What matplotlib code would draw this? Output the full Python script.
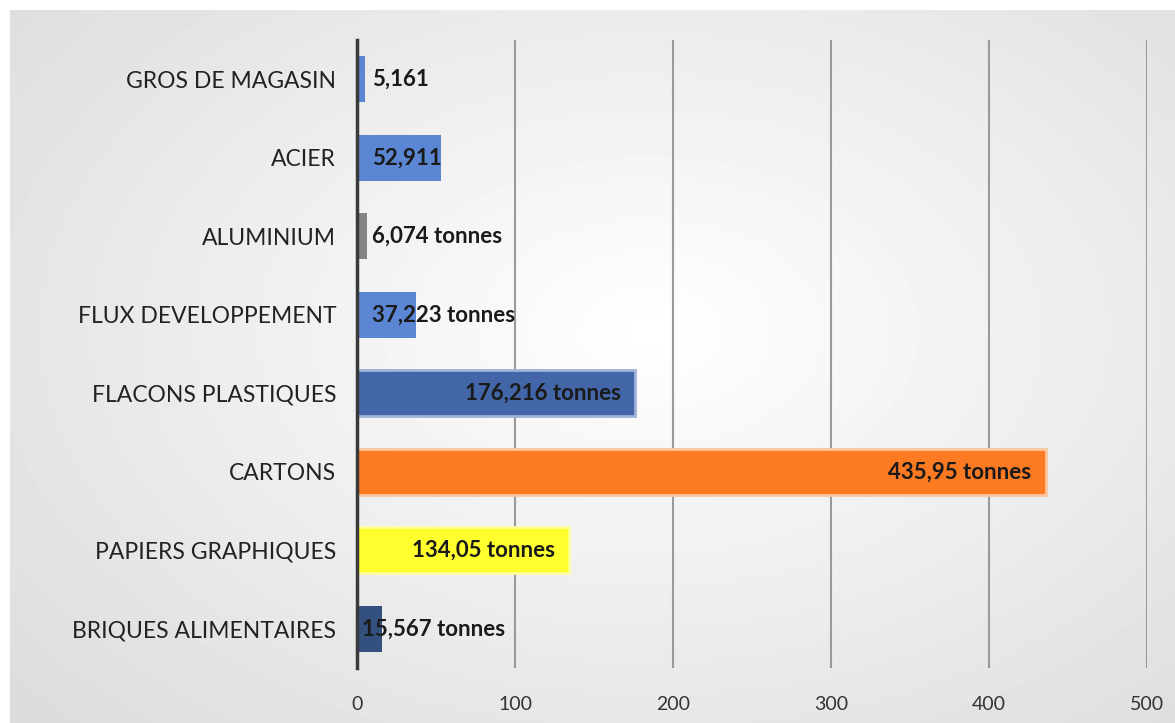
import matplotlib.pyplot as plt
import numpy as np

# données
categories = ["BRIQUES ALIMENTAIRES", "PAPIERS GRAPHIQUES", "CARTONS", "FLACONS PLASTIQUES",
              "FLUX DEVELOPPEMENT", "ALUMINIUM", "ACIER", "GROS DE MAGASIN"]
values = [15.567, 134.05, 435.95, 176.216, 37.223, 6.074, 52.911, 5.161]
labels = ["15,567 tonnes", "134,05 tonnes", "435,95 tonnes", "176,216 tonnes",
          "37,223 tonnes", "6,074 tonnes", "52,911", "5,161"]
colors = ["#34507f", "#ffff2e", "#fb7a22", "#4366a8", "#5b86d3", "#858585", "#5b86d3", "#5b86d3"]
edges = ["none", "#ffff9a", "#fbc6a0", "#9fb3d9", "none", "none", "none", "none"]
inside_end = [False, True, True, True, False, False, False, False]

W, H = 1175, 723
fig = plt.figure(figsize=(W / 100, H / 100), dpi=100)
fig.patch.set_facecolor("white")

# fond dégradé
bg = fig.add_axes([10 / W, 0, 1 - 10 / W, 1 - 10 / H])
yy, xx = np.mgrid[0:1:200j, 0:1:300j]
d = np.sqrt(((xx - 0.55) / 0.75) ** 2 + ((yy - 0.45) / 0.8) ** 2)
bg.imshow(1 - 0.14 * np.clip(d, 0, 1.2), cmap="gray", vmin=0, vmax=1, aspect="auto",
          extent=[0, 1, 0, 1])
bg.axis("off")

ax = fig.add_axes([357 / W, 1 - 668 / H, (1147 - 357) / W, (668 - 40) / H])
ax.patch.set_alpha(0)
y = np.arange(len(categories))
ax.barh(y, values, height=0.58, color=colors, edgecolor=edges, linewidth=2, zorder=3)

for i, (v, lab) in enumerate(zip(values, labels)):
    if inside_end[i]:
        ax.text(v - 9, i, lab, ha="right", va="center", fontsize=16, fontweight="bold",
                family="Lato", color="#1a1a1a", zorder=4)
    else:
        x0 = 3 if i == 0 else 9.5
        ax.text(x0, i, lab, ha="left", va="center", fontsize=16, fontweight="bold",
                family="Lato", color="#1a1a1a", zorder=4)

ax.set_xlim(0, 500)
ax.set_ylim(-0.5, len(categories) - 0.5)
ax.set_xticks([0, 100, 200, 300, 400, 500])
ax.set_yticks(y)
ax.set_yticklabels(categories, family="Lato", fontsize=16.5, color="#222222")
ax.tick_params(axis="y", length=0, pad=15)
ax.tick_params(axis="x", length=0, pad=20, labelsize=14, labelcolor="#333333")
for t in ax.get_xticklabels():
    t.set_family("Lato")
ax.grid(axis="x", color="#9a9a9a", linewidth=1.5, zorder=1)
for s in ["top", "right", "bottom"]:
    ax.spines[s].set_visible(False)
ax.spines["left"].set_color("#3a3a3a")
ax.spines["left"].set_linewidth(2.5)
ax.spines["left"].set_zorder(5)

fig.savefig("out.png", dpi=100)
